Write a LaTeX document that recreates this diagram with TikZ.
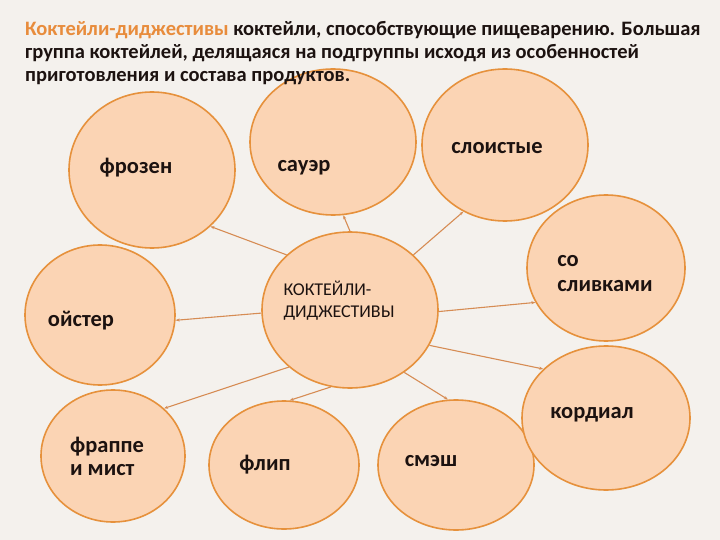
\documentclass[tikz,border=0pt]{standalone}
\usepackage{fontspec}
\setmainfont{Carlito}
\usetikzlibrary{shapes.geometric,arrows.meta}
\definecolor{bgpaper}{RGB}{244,241,237}
\definecolor{bubblefill}{RGB}{251,212,180}
\definecolor{bubbleline}{RGB}{230,145,60}
\definecolor{linkline}{RGB}{214,140,84}
\definecolor{titleorange}{RGB}{232,140,60}
\definecolor{inkdark}{RGB}{28,18,16}
\tikzset{
  bubble/.style={ellipse, draw=bubbleline, fill=bubblefill, line width=1.6pt, inner sep=0pt},
  label/.style={font=\fontsize{22.5}{25}\selectfont\bfseries, text=inkdark, align=left, inner sep=0pt},
  link/.style={draw=linkline, line width=1.1pt, -{Stealth[length=4pt,width=3pt]}}
}
\begin{document}
\begin{tikzpicture}[x=1pt,y=-1pt]
  \fill[bgpaper] (0,0) rectangle (720,540);
  \useasboundingbox (0,0) rectangle (720,540);
  % bubbles
  \node[bubble, minimum width=166pt, minimum height=156pt] (frozen) at (152,170) {};
  \node[bubble, minimum width=166pt, minimum height=146pt] (sour) at (333,142) {};
  \node[bubble, minimum width=166pt, minimum height=152pt] (layered) at (505,145) {};
  \node[bubble, minimum width=158pt, minimum height=146pt] (cream) at (606,268) {};
  \node[bubble, minimum width=150pt, minimum height=140pt] (oyster) at (100,315) {};
  \node[bubble, minimum width=176pt, minimum height=156pt] (core) at (350,310) {};
  \node[bubble, minimum width=144pt, minimum height=132pt] (frappe) at (113,456) {};
  \node[bubble, minimum width=150pt, minimum height=128pt] (flip) at (284,465) {};
  \node[bubble, minimum width=156pt, minimum height=130pt] (smash) at (456,465) {};
  \node[bubble, minimum width=168pt, minimum height=144pt] (cordial) at (606,418) {};
  % labels
  \node[label] (frozentext) at (136,168) {фрозен};
  \node[label] (sourtext) at (304,168) {сауэр};
  \node[label] (layeredtext) at (497,148) {слоистые};
  \node[label] (creamtext) at (605,274) {со\\сливками};
  \node[label] (oystertext) at (81,321) {ойстер};
  \node[label, font=\fontsize{18}{22}\selectfont] (coretext) at (339,301) {КОКТЕЙЛИ-\\ДИДЖЕСТИВЫ};
  \node[label, font=\fontsize{22.5}{23}\selectfont\bfseries] (frappetext) at (107,456) {фраппе\\и мист};
  \node[label] (fliptext) at (265,465) {флип};
  \node[label] (smashtext) at (431,461) {смэш};
  \node[label] (cordialtext) at (592,415) {кордиал};
  % links
  \draw[link] (core.139) -- (frozen.-44);
  \draw[link] (core.182) -- (oyster.-4);
  \draw[link] (core.90) -- (sour.-82);
  \draw[link] (core.41) -- (layered.-122);
  \draw[link] (core.-1) -- (cream.-154);
  \draw[link] (core.-24) -- (cordial.142);
  \draw[link] (core.-49) -- (smash.97);
  \draw[link] (core.-104) -- (flip.85);
  \draw[link] (core.-137) -- (frappe.43);
  % title on top
  \node[anchor=north west, inner sep=0pt, align=left, text=inkdark,
        font=\fontsize{20.5}{23}\selectfont\bfseries] (title) at (25,21)
    {\textcolor{titleorange}{Коктейли-диджестивы} коктейли, способствующие пищеварению. Большая\\
     группа коктейлей, делящаяся на подгруппы исходя из особенностей\\
     приготовления и состава продуктов.};
\end{tikzpicture}
\end{document}
